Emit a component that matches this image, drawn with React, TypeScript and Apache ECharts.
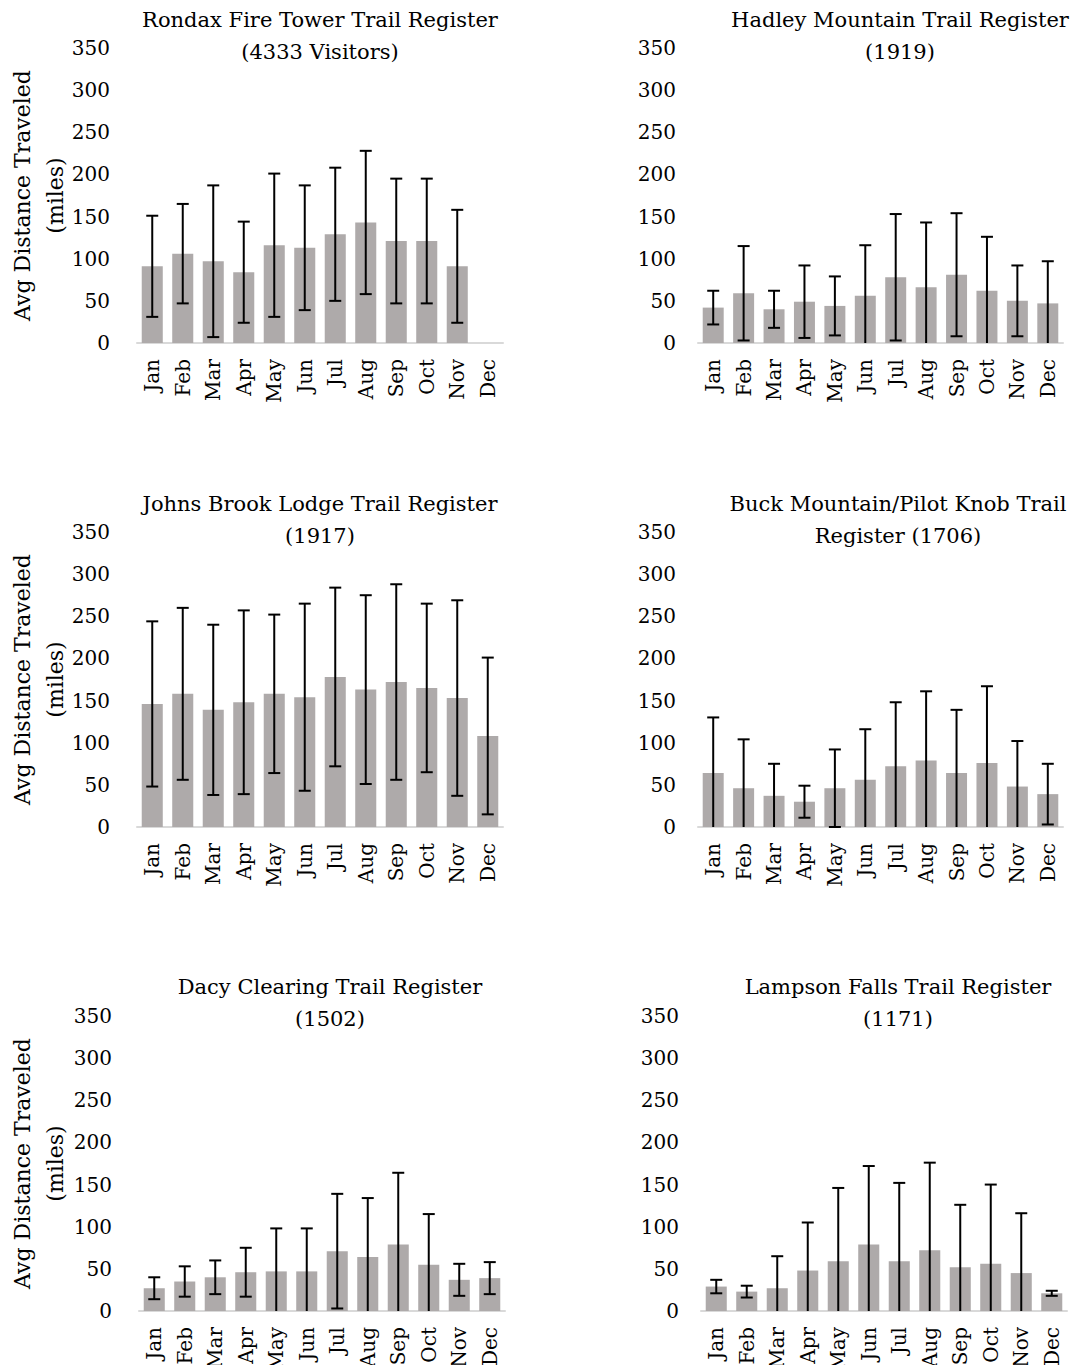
import React, { useEffect, useRef } from "react";
import * as echarts from "echarts";

const months = ["Jan", "Feb", "Mar", "Apr", "May", "Jun", "Jul", "Aug", "Sep", "Oct", "Nov", "Dec"];
const yTicks = [0, 50, 100, 150, 200, 250, 300, 350];

const titles = [
  "Rondax Fire Tower Trail Register\n(4333 Visitors)",
  "Hadley Mountain Trail Register\n(1919)",
  "Johns Brook Lodge Trail Register\n(1917)",
  "Buck Mountain/Pilot Knob Trail\nRegister (1706)",
  "Dacy Clearing Trail Register\n(1502)",
  "Lampson Falls Trail Register\n(1171)",
];

const rondaxMean = [91, 106, 97, 84, 116, 113, 129, 143, 121, 121, 91, 0];
const rondaxSd = [60, 59, 90, 60, 85, 74, 79, 85, 74, 74, 67, 0];

const hadleyMean = [42, 59, 40, 49, 44, 56, 78, 66, 81, 62, 50, 47];
const hadleySd = [20, 56, 22, 43, 35, 60, 75, 77, 73, 64, 42, 50];

const johnsMean = [146, 158, 139, 148, 158, 154, 178, 163, 172, 165, 153, 108];
const johnsSd = [98, 102, 101, 109, 94, 111, 106, 112, 116, 100, 116, 93];

const buckMean = [64, 46, 37, 30, 46, 56, 72, 79, 64, 76, 48, 39];
const buckSd = [66, 58, 38, 19, 46, 60, 76, 82, 75, 91, 54, 36];

const dacyMean = [27, 35, 40, 46, 47, 47, 71, 64, 79, 55, 37, 39];
const dacySd = [13, 18, 20, 29, 51, 51, 68, 70, 85, 60, 19, 19];

const lampsonMean = [29, 23, 27, 48, 59, 79, 59, 72, 52, 56, 45, 21];
const lampsonSd = [8, 7, 38, 57, 87, 93, 93, 104, 74, 94, 71, 3];

const means = [rondaxMean, hadleyMean, johnsMean, buckMean, dacyMean, lampsonMean];
const sds = [rondaxSd, hadleySd, johnsSd, buckSd, dacySd, lampsonSd];

const FONT = "DejaVu Serif";
const FS = 20;

const grids = [
  { left: 137, top: 48, width: 366, height: 295 },
  { left: 698, top: 48, width: 365, height: 295 },
  { left: 137, top: 532, width: 366, height: 295 },
  { left: 698, top: 532, width: 365, height: 295 },
  { left: 139, top: 1016, width: 366, height: 295 },
  { left: 701, top: 1016, width: 366, height: 295 },
];
const titlePos = [
  [320, 36],
  [900, 36],
  [320, 520],
  [898, 520],
  [330, 1003],
  [898, 1003],
];

export default function App() {
  const ref = useRef<HTMLDivElement>(null);
  useEffect(() => {
    if (!ref.current) return;
    const chart = echarts.init(ref.current, null, { renderer: "svg" });
    const xAxis: any[] = [];
    const yAxis: any[] = [];
    const series: any[] = [];
    const graphic: any[] = [];
    grids.forEach((g, i) => {
      const leftCol = i % 2 === 0;
      xAxis.push({
        type: "category",
        gridIndex: i,
        data: months,
        axisTick: { show: false },
        axisLine: { lineStyle: { color: "#D9D9D9", width: 2 } },
        axisLabel: { rotate: 90, margin: 16, fontFamily: FONT, fontSize: FS, color: "#000", interval: 0 },
      });
      yAxis.push({
        type: "value",
        gridIndex: i,
        min: 0,
        max: 350,
        interval: 50,
        axisLine: { show: false },
        axisTick: { show: false },
        splitLine: { show: false },
        axisLabel: {
          margin: leftCol ? 27 : 22,
          fontFamily: FONT,
          fontSize: FS,
          color: "#000",
          formatter: (v: number) => (yTicks.includes(v) ? String(v) : ""),
        },
      });
      series.push({
        type: "bar",
        xAxisIndex: i,
        yAxisIndex: i,
        data: means[i],
        barCategoryGap: "31%",
        itemStyle: { color: "#AEAAAA" },
        silent: true,
      });
      series.push({
        type: "custom",
        xAxisIndex: i,
        yAxisIndex: i,
        data: means[i].map((m, k) => [k, m, sds[i][k]]),
        encode: { x: 0, y: 1 },
        z: 5,
        silent: true,
        renderItem: (params: any, api: any) => {
          const k = api.value(0);
          const m = api.value(1);
          const s = api.value(2);
          if (!s) return null;
          const hi = m + s;
          const loRaw = m - s;
          const lo = Math.max(0, loRaw);
          const pHi = api.coord([k, hi]);
          const pLo = api.coord([k, lo]);
          const cap = 6;
          const st = { stroke: "#000", lineWidth: 2 };
          const children: any[] = [
            { type: "line", shape: { x1: pHi[0], y1: pHi[1], x2: pLo[0], y2: pLo[1] }, style: st },
            { type: "line", shape: { x1: pHi[0] - cap, y1: pHi[1], x2: pHi[0] + cap, y2: pHi[1] }, style: st },
          ];
          if (loRaw >= 0) {
            children.push({ type: "line", shape: { x1: pLo[0] - cap, y1: pLo[1], x2: pLo[0] + cap, y2: pLo[1] }, style: st });
          }
          return { type: "group", children };
        },
      });
      graphic.push({
        type: "text",
        x: titlePos[i][0],
        y: titlePos[i][1],
        style: {
          text: titles[i],
          fontFamily: FONT,
          fontSize: 21,
          lineHeight: 32,
          fill: "#000",
          textAlign: "center",
          textVerticalAlign: "middle",
        },
      });
      if (leftCol) {
        graphic.push({
          type: "text",
          x: 39,
          y: g.top + g.height / 2,
          rotation: Math.PI / 2,
          style: {
            text: "Avg Distance Traveled\n(miles)",
            fontFamily: FONT,
            fontSize: 22,
            lineHeight: 33,
            fill: "#000",
            textAlign: "center",
            textVerticalAlign: "middle",
          },
        });
      }
    });
    chart.setOption({
      animation: false,
      backgroundColor: "#fff",
      grid: grids.map((g) => ({ ...g, containLabel: false, outerBoundsMode: "none" })),
      xAxis,
      yAxis,
      series,
      graphic,
    });
    return () => chart.dispose();
  }, []);
  return <div ref={ref} style={{ position: "absolute", left: 0, top: 0, width: 1085, height: 1365 }} />;
}
